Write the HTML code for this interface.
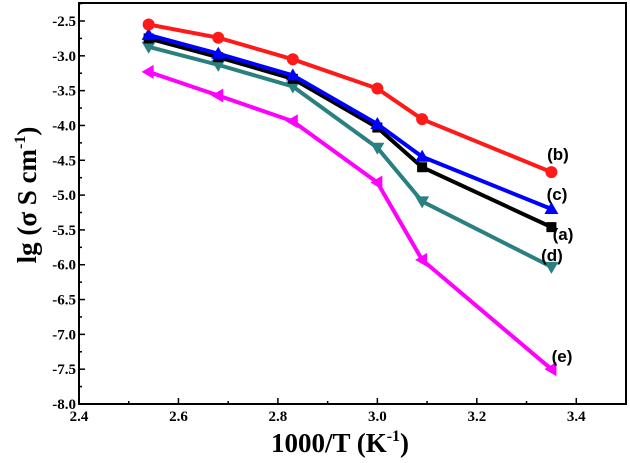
<!DOCTYPE html>
<html><head><meta charset="utf-8"><style>
html,body{margin:0;padding:0;background:#fff;}
svg{display:block;}
</style></head><body>
<svg id="chart" width="630" height="463" xmlns="http://www.w3.org/2000/svg"></svg>
<script>
const xValues=[2.54,2.68,2.83,3.0,3.09,3.35];
const seriesA=[-2.75,-3.02,-3.33,-4.03,-4.60,-5.46];
const seriesB=[-2.55,-2.74,-3.05,-3.47,-3.91,-4.67];
const seriesC=[-2.70,-2.97,-3.28,-3.98,-4.45,-5.20];
const seriesD=[-2.87,-3.13,-3.44,-4.32,-5.09,-6.03];
const seriesE=[-3.23,-3.57,-3.94,-4.82,-5.93,-7.50];
const xTicks=[2.4,2.6,2.8,3.0,3.2,3.4];
const yTicks=[-2.5,-3.0,-3.5,-4.0,-4.5,-5.0,-5.5,-6.0,-6.5,-7.0,-7.5,-8.0];
const seriesLabels=["(a)","(b)","(c)","(d)","(e)"];

const L=79,R=626,T=3,B=404;
const X=v=>L+(v-2.4)*(R-L)/1.1;
const Y=v=>404-(v+8)*383/5.5;
const svg=document.getElementById('chart');
const NS='http://www.w3.org/2000/svg';
function mk(tag,attrs,parent){const e=document.createElementNS(NS,tag);for(const k in attrs)e.setAttribute(k,attrs[k]);(parent||svg).appendChild(e);return e;}

// frame
const frame=mk('rect',{x:L,y:T,width:R-L,height:B-T,fill:'none',stroke:'#000','stroke-width':2});



// x ticks
for(let v=2.4;v<=3.501;v+=0.1){
  const major=Math.abs(Math.round(v*10)%2)===0;
  const t=mk('line',{x1:X(v),x2:X(v),y1:B,y2:B-(major?6:3),stroke:'#000','stroke-width':1.5});
  
  
}
xTicks.forEach(v=>{
  const t=mk('text',{x:X(v),y:B+17,'text-anchor':'middle','font-family':'Liberation Serif, serif','font-weight':'bold','font-size':15});
  t.textContent=v.toFixed(1);
  
  
});
// y ticks
for(let v=-8;v<=-2.24;v+=0.25){
  const major=Math.abs(Math.round(v*4)%2)===0;
  const t=mk('line',{x1:L,x2:L+(major?6:3),y1:Y(v),y2:Y(v),stroke:'#000','stroke-width':1.5});
  
  
}
yTicks.forEach(v=>{
  const t=mk('text',{x:L-3,y:Y(v)+5,'text-anchor':'end','font-family':'Liberation Serif, serif','font-weight':'bold','font-size':15});
  t.textContent=v.toFixed(1);
  
  
});

// axis titles
const xt=mk('text',{x:340,y:452,'text-anchor':'middle','font-family':'Liberation Serif, serif','font-weight':'bold','font-size':27});
xt.innerHTML='1000/T (K<tspan dy="-11" font-size="16">-1</tspan><tspan dy="11">)</tspan>';


const yt=mk('text',{x:0,y:0,'text-anchor':'middle','font-family':'Liberation Serif, serif','font-weight':'bold','font-size':27,transform:'translate(36,195) rotate(-90)'});
yt.innerHTML='lg (σ S cm<tspan dy="-11" font-size="16">-1</tspan><tspan dy="11">)</tspan>';



function marker(shape,cx,cy,color,g){
  const s=6;
  let e;
  if(shape==='square') e=mk('rect',{x:cx-s+1,y:cy-s+1,width:2*s-2,height:2*s-2,fill:color},g);
  else if(shape==='circle') e=mk('circle',{cx:cx,cy:cy,r:s,fill:color},g);
  else if(shape==='up') e=mk('polygon',{points:`${cx},${cy-s-1} ${cx-s-1},${cy+s-1} ${cx+s+1},${cy+s-1}`,fill:color},g);
  else if(shape==='down') e=mk('polygon',{points:`${cx},${cy+s+1} ${cx-s-1},${cy-s+1} ${cx+s+1},${cy-s+1}`,fill:color},g);
  else e=mk('polygon',{points:`${cx-s-1},${cy} ${cx+s-1},${cy-s-1} ${cx+s-1},${cy+s+1}`,fill:color},g);
  
  
}
const series=[
  {vals:seriesE,color:'#ff00ff',shape:'left',name:'series-e'},
  {vals:seriesD,color:'#2a8080',shape:'down',name:'series-d'},
  {vals:seriesA,color:'#000000',shape:'square',name:'series-a'},
  {vals:seriesC,color:'#0000ff',shape:'up',name:'series-c'},
  {vals:seriesB,color:'#ff1a1a',shape:'circle',name:'series-b'}
];
series.forEach(s=>{
  const g=mk('g',{});
  
  
  const pl=mk('polyline',{points:s.vals.map((v,i)=>X(xValues[i])+','+Y(v)).join(' '),fill:'none',stroke:s.color,'stroke-width':4,'stroke-linejoin':'miter'},g);
  
  
  s.vals.forEach((v,i)=>marker(s.shape,X(xValues[i]),Y(v),s.color,g));
});

// labels
const labelPos=[[563,240],[558,160],[557,200],[552,261],[562,362]];
seriesLabels.forEach((t,i)=>{
  const e=mk('text',{x:labelPos[i][0],y:labelPos[i][1],'text-anchor':'middle','font-family':'Liberation Sans, sans-serif','font-weight':'bold','font-size':17});
  e.textContent=t;
  
  
});
</script>
</body></html>
